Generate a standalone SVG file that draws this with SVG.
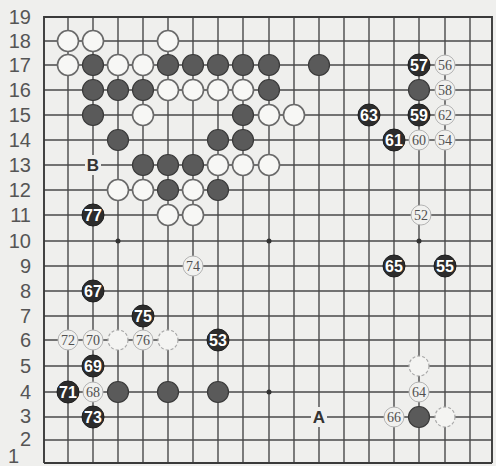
<svg xmlns="http://www.w3.org/2000/svg" width="496" height="466" viewBox="0 0 496 466">
<style>
.g{stroke:#4a4a4a;stroke-width:1.4;fill:none}
.e{stroke:#3a3a3a;stroke-width:1.9;fill:none}
.bs{fill:#5a5a5a;stroke:#3a3a3a;stroke-width:1.2}
.bn{fill:#2c2c2c;stroke:#1e1e1e;stroke-width:1}
.ws{fill:#f7f7f5;stroke:#6a6a6a;stroke-width:1.6}
.wf{fill:#f4f4f2;stroke:#a8a8a8;stroke-width:1.2;stroke-dasharray:3 2}
.wn{fill:#f1f1ef;stroke:#b4b4b4;stroke-width:1}
.nb{font-family:"Liberation Sans",Arial,sans-serif;font-weight:bold;font-size:16px;fill:#fff;text-anchor:middle}
.nw{font-family:"Liberation Serif","Times New Roman",serif;font-size:14px;fill:#505050;text-anchor:middle}
.rl{font-family:"Liberation Sans",Arial,sans-serif;font-size:20px;fill:#555;text-anchor:end}
.lt{font-family:"Liberation Sans",Arial,sans-serif;font-weight:bold;font-size:17px;fill:#333;text-anchor:middle}
.hs{fill:#333}
</style>
<rect width="496" height="466" fill="#efefed"/>
<g id="labels">
<text class="rl" x="31" y="24">19</text>
<text class="rl" x="31" y="48">18</text>
<text class="rl" x="31" y="72">17</text>
<text class="rl" x="31" y="97">16</text>
<text class="rl" x="31" y="122">15</text>
<text class="rl" x="31" y="147">14</text>
<text class="rl" x="31" y="172">13</text>
<text class="rl" x="31" y="197">12</text>
<text class="rl" x="31" y="222">11</text>
<text class="rl" x="31" y="248">10</text>
<text class="rl" x="31" y="273">9</text>
<text class="rl" x="31" y="298">8</text>
<text class="rl" x="31" y="323">7</text>
<text class="rl" x="31" y="347">6</text>
<text class="rl" x="31" y="373">5</text>
<text class="rl" x="31" y="399">4</text>
<text class="rl" x="31" y="423">3</text>
<text class="rl" x="31" y="446" font-size="18">2</text>
<text class="rl" x="19" y="463" font-size="11">1</text>
</g>
<g id="grid">
<path class="g" d="M44 41H492M44 65H492M44 90H492M44 115H492M44 140H492M44 165H492M44 190H492M44 215H492M44 241H492M44 266H492M44 291H492M44 316H492M44 340H492M44 366H492M44 392H492M44 417H492M44 440H492"/>
<path class="g" d="M68 17V463M93 17V463M118 17V463M143 17V463M168 17V463M193 17V463M218 17V463M243 17V463M269 17V463M294 17V463M319 17V463M344 17V463M369 17V463M394 17V463M419 17V463M445 17V463M470 17V463"/>
<path class="e" d="M44 463V17H492V463M44 463H492"/>
<circle class="hs" cx="118" cy="241" r="2.5"/>
<circle class="hs" cx="269" cy="241" r="2.5"/>
<circle class="hs" cx="419" cy="241" r="2.5"/>
<circle class="hs" cx="269" cy="392" r="2.5"/>
</g>
<g id="white-stones">
<circle class="ws" cx="68" cy="41" r="10.5"/>
<circle class="ws" cx="93" cy="41" r="10.5"/>
<circle class="ws" cx="168" cy="41" r="10.5"/>
<circle class="ws" cx="68" cy="65" r="10.5"/>
<circle class="ws" cx="118" cy="65" r="10.5"/>
<circle class="ws" cx="143" cy="65" r="10.5"/>
<circle class="ws" cx="168" cy="90" r="10.5"/>
<circle class="ws" cx="193" cy="90" r="10.5"/>
<circle class="ws" cx="218" cy="90" r="10.5"/>
<circle class="ws" cx="243" cy="90" r="10.5"/>
<circle class="ws" cx="143" cy="115" r="10.5"/>
<circle class="ws" cx="269" cy="115" r="10.5"/>
<circle class="ws" cx="294" cy="115" r="10.5"/>
<circle class="ws" cx="218" cy="165" r="10.5"/>
<circle class="ws" cx="243" cy="165" r="10.5"/>
<circle class="ws" cx="269" cy="165" r="10.5"/>
<circle class="ws" cx="118" cy="190" r="10.5"/>
<circle class="ws" cx="143" cy="190" r="10.5"/>
<circle class="ws" cx="193" cy="190" r="10.5"/>
<circle class="ws" cx="168" cy="215" r="10.5"/>
<circle class="ws" cx="193" cy="215" r="10.5"/>
<circle class="wf" cx="118" cy="340" r="10"/>
<circle class="wf" cx="168" cy="340" r="10"/>
<circle class="wf" cx="419" cy="366" r="10"/>
<circle class="wf" cx="445" cy="417" r="10"/>
</g>
<g id="black-stones">
<circle class="bs" cx="93" cy="65" r="10.5"/>
<circle class="bs" cx="168" cy="65" r="10.5"/>
<circle class="bs" cx="193" cy="65" r="10.5"/>
<circle class="bs" cx="218" cy="65" r="10.5"/>
<circle class="bs" cx="243" cy="65" r="10.5"/>
<circle class="bs" cx="269" cy="65" r="10.5"/>
<circle class="bs" cx="319" cy="65" r="10.5"/>
<circle class="bs" cx="93" cy="90" r="10.5"/>
<circle class="bs" cx="118" cy="90" r="10.5"/>
<circle class="bs" cx="143" cy="90" r="10.5"/>
<circle class="bs" cx="269" cy="90" r="10.5"/>
<circle class="bs" cx="419" cy="90" r="10.5"/>
<circle class="bs" cx="93" cy="115" r="10.5"/>
<circle class="bs" cx="243" cy="115" r="10.5"/>
<circle class="bs" cx="118" cy="140" r="10.5"/>
<circle class="bs" cx="218" cy="140" r="10.5"/>
<circle class="bs" cx="243" cy="140" r="10.5"/>
<circle class="bs" cx="143" cy="165" r="10.5"/>
<circle class="bs" cx="168" cy="165" r="10.5"/>
<circle class="bs" cx="193" cy="165" r="10.5"/>
<circle class="bs" cx="168" cy="190" r="10.5"/>
<circle class="bs" cx="218" cy="190" r="10.5"/>
<circle class="bs" cx="118" cy="392" r="10.5"/>
<circle class="bs" cx="168" cy="392" r="10.5"/>
<circle class="bs" cx="218" cy="392" r="10.5"/>
<circle class="bs" cx="419" cy="417" r="10.5"/>
</g>
<g id="move-57"><circle class="bn" cx="419" cy="65" r="11"/><text class="nb" x="419" y="71">57</text></g>
<g id="move-63"><circle class="bn" cx="369" cy="115" r="11"/><text class="nb" x="369" y="121">63</text></g>
<g id="move-59"><circle class="bn" cx="419" cy="115" r="11"/><text class="nb" x="419" y="121">59</text></g>
<g id="move-61"><circle class="bn" cx="394" cy="140" r="11"/><text class="nb" x="394" y="146">61</text></g>
<g id="move-77"><circle class="bn" cx="93" cy="215" r="11"/><text class="nb" x="93" y="221">77</text></g>
<g id="move-65"><circle class="bn" cx="394" cy="266" r="11"/><text class="nb" x="394" y="272">65</text></g>
<g id="move-55"><circle class="bn" cx="445" cy="266" r="11"/><text class="nb" x="445" y="272">55</text></g>
<g id="move-67"><circle class="bn" cx="93" cy="291" r="11"/><text class="nb" x="93" y="297">67</text></g>
<g id="move-75"><circle class="bn" cx="143" cy="316" r="11"/><text class="nb" x="143" y="322">75</text></g>
<g id="move-53"><circle class="bn" cx="218" cy="340" r="11"/><text class="nb" x="218" y="346">53</text></g>
<g id="move-69"><circle class="bn" cx="93" cy="366" r="11"/><text class="nb" x="93" y="372">69</text></g>
<g id="move-71"><circle class="bn" cx="68" cy="392" r="11"/><text class="nb" x="68" y="398">71</text></g>
<g id="move-73"><circle class="bn" cx="93" cy="417" r="11"/><text class="nb" x="93" y="423">73</text></g>
<g id="move-56"><circle class="wn" cx="445" cy="65" r="10"/><text class="nw" x="445" y="70">56</text></g>
<g id="move-58"><circle class="wn" cx="445" cy="90" r="10"/><text class="nw" x="445" y="95">58</text></g>
<g id="move-62"><circle class="wn" cx="445" cy="115" r="10"/><text class="nw" x="445" y="120">62</text></g>
<g id="move-60"><circle class="wn" cx="419" cy="140" r="10"/><text class="nw" x="419" y="145">60</text></g>
<g id="move-54"><circle class="wn" cx="445" cy="140" r="10"/><text class="nw" x="445" y="145">54</text></g>
<g id="move-52"><circle class="wn" cx="421" cy="215" r="10"/><text class="nw" x="421" y="220">52</text></g>
<g id="move-74"><circle class="wn" cx="193" cy="266" r="10"/><text class="nw" x="193" y="271">74</text></g>
<g id="move-72"><circle class="wn" cx="68" cy="340" r="10"/><text class="nw" x="68" y="345">72</text></g>
<g id="move-70"><circle class="wn" cx="93" cy="340" r="10"/><text class="nw" x="93" y="345">70</text></g>
<g id="move-76"><circle class="wn" cx="143" cy="340" r="10"/><text class="nw" x="143" y="345">76</text></g>
<g id="move-68"><circle class="wn" cx="93" cy="392" r="10"/><text class="nw" x="93" y="397">68</text></g>
<g id="move-64"><circle class="wn" cx="419" cy="392" r="10"/><text class="nw" x="419" y="397">64</text></g>
<g id="move-66"><circle class="wn" cx="394" cy="417" r="10"/><text class="nw" x="394" y="422">66</text></g>
<g id="mark-B"><rect x="85" y="155" width="16" height="20" fill="#efefed"/><text class="lt" x="93" y="171">B</text></g>
<g id="mark-A"><rect x="311" y="407" width="16" height="20" fill="#efefed"/><text class="lt" x="319" y="423">A</text></g>
</svg>
